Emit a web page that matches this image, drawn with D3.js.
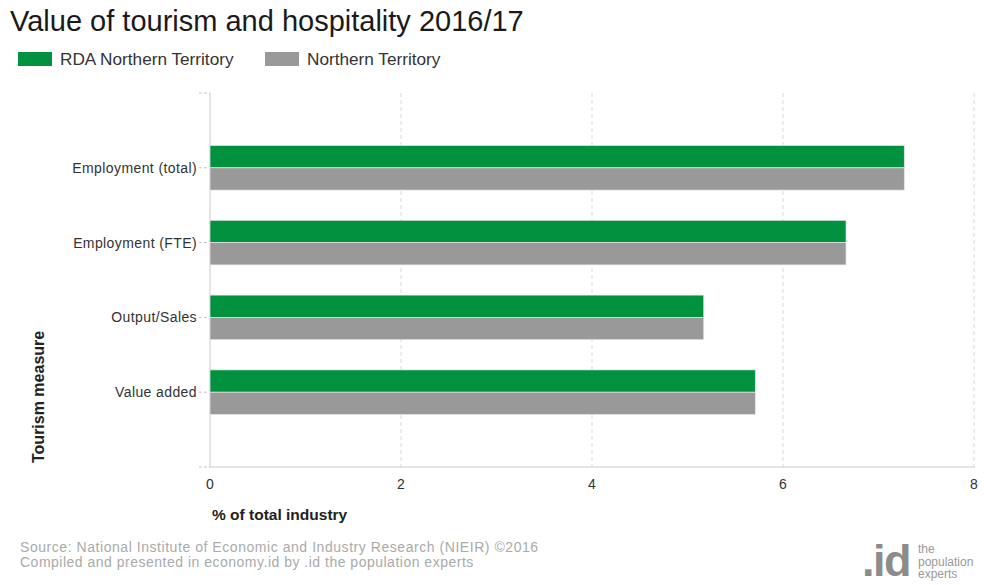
<!DOCTYPE html>
<html>
<head>
<meta charset="utf-8">
<script src="https://cdn.jsdelivr.net/npm/d3@7"></script>
<style>
  body { margin: 0; background: #fff; }
  text { font-family: Arial, "Liberation Sans", sans-serif; }
</style>
</head>
<body>
<svg width="984" height="585"></svg>
<script>
// chart values
var categories = ["Employment (total)", "Employment (FTE)", "Output/Sales", "Value added"];
var seriesNames = ["RDA Northern Territory", "Northern Territory"];
var rdaValues = [7.27, 6.66, 5.17, 5.71];
var ntValues = [7.27, 6.66, 5.17, 5.71];
var xTicks = [0, 2, 4, 6, 8];
var colors = ["#02923f", "#999999"];

var svg = d3.select("svg");

var plotLeft = 210, plotRight = 974, plotTop = 93, plotBottom = 467;

var x = d3.scaleLinear().domain([0, 8]).range([plotLeft, plotRight]);
var y = d3.scalePoint().domain(categories).range([plotTop, plotBottom]).padding(1);
var barH = 22.3;

// title
svg.append("text")
  .attr("x", 10).attr("y", 31)
  .attr("font-size", 29)
  .attr("fill", "#1a1a1a")
  .text("Value of tourism and hospitality 2016/17");

// legend
var legendX = [18, 265];
seriesNames.forEach(function(name, i){
  svg.append("rect")
    .attr("x", legendX[i]).attr("y", 52)
    .attr("width", 34).attr("height", 14)
    .attr("fill", colors[i]);
  svg.append("text")
    .attr("x", legendX[i] + 42).attr("y", 65)
    .attr("font-size", 17.2)
    .attr("fill", "#333")
    .text(name);
});

// grid lines
svg.append("g").selectAll("line")
  .data(xTicks.slice(1))
  .enter()
  .append("line")
  .attr("x1", function(d){ return x(d); })
  .attr("x2", function(d){ return x(d); })
  .attr("y1", plotTop)
  .attr("y2", plotBottom)
  .attr("stroke", "#d9d9d9")
  .attr("stroke-dasharray", "4,3");

// axis lines
svg.append("line")
  .attr("x1", plotLeft).attr("x2", plotLeft)
  .attr("y1", plotTop).attr("y2", plotBottom)
  .attr("stroke", "#dcdcdc").attr("stroke-width", 1.5);
svg.append("line")
  .attr("x1", plotLeft).attr("x2", plotRight + 1)
  .attr("y1", plotBottom).attr("y2", plotBottom)
  .attr("stroke", "#dcdcdc").attr("stroke-width", 1.5);

// small ticks on category axis
var tickYs = [plotTop].concat(categories.map(function(c){ return y(c); })).concat([plotBottom]);
svg.append("g").selectAll("line")
  .data(tickYs)
  .enter()
  .append("line")
  .attr("x1", 199).attr("x2", plotLeft)
  .attr("y1", function(d){ return d; })
  .attr("y2", function(d){ return d; })
  .attr("stroke", "#c8c8c8")
  .attr("stroke-dasharray", "3,2");

// bars
var series = [rdaValues, ntValues];
series.forEach(function(vals, s){
  svg.append("g").selectAll("rect")
    .data(vals)
    .enter()
    .append("rect")
    .attr("x", x(0))
    .attr("y", function(d, i){ return y(categories[i]) - barH + s * barH; })
    .attr("width", function(d){ return x(d) - x(0); })
    .attr("height", barH)
    .attr("fill", colors[s])
    .attr("stroke", "#e6e6e6")
    .attr("stroke-width", 0.7);
});

// category labels
svg.append("g").selectAll("text")
  .data(categories)
  .enter()
  .append("text")
  .attr("x", 197)
  .attr("y", function(d){ return y(d) + 5; })
  .attr("text-anchor", "end")
  .attr("font-size", 14)
  .attr("letter-spacing", 0.4)
  .attr("fill", "#333")
  .text(function(d){ return d; });

// x tick labels
svg.append("g").selectAll("text")
  .data(xTicks)
  .enter()
  .append("text")
  .attr("x", function(d){ return x(d); })
  .attr("y", 489)
  .attr("text-anchor", "middle")
  .attr("font-size", 14)
  .attr("fill", "#333")
  .text(function(d){ return d; });

// axis titles
svg.append("text")
  .attr("x", 212).attr("y", 520)
  .attr("font-size", 15.5)
  .attr("font-weight", "bold")
  .attr("fill", "#222")
  .text("% of total industry");

svg.append("text")
  .attr("transform", "translate(44,463) rotate(-90)")
  .attr("font-size", 16)
  .attr("font-weight", "bold")
  .attr("fill", "#222")
  .text("Tourism measure");

// footer
svg.append("text")
  .attr("x", 20).attr("y", 552)
  .attr("font-size", 14)
  .attr("letter-spacing", 0.55)
  .attr("fill", "#aaa")
  .text("Source: National Institute of Economic and Industry Research (NIEIR) \u00a92016");
svg.append("text")
  .attr("x", 20).attr("y", 567)
  .attr("font-size", 14)
  .attr("letter-spacing", 0.5)
  .attr("fill", "#aaa")
  .text("Compiled and presented in economy.id by .id the population experts");

// logo
svg.append("text")
  .attr("x", 862).attr("y", 576)
  .attr("font-size", 45)
  .attr("font-weight", "bold")
  .attr("letter-spacing", -1.5)
  .attr("fill", "#8c8c8c")
  .text(".id");
["the", "population", "experts"].forEach(function(t, i){
  svg.append("text")
    .attr("x", 918).attr("y", 553 + i * 12.5)
    .attr("font-size", 12)
    .attr("fill", "#999")
    .text(t);
});
</script>
</body>
</html>
